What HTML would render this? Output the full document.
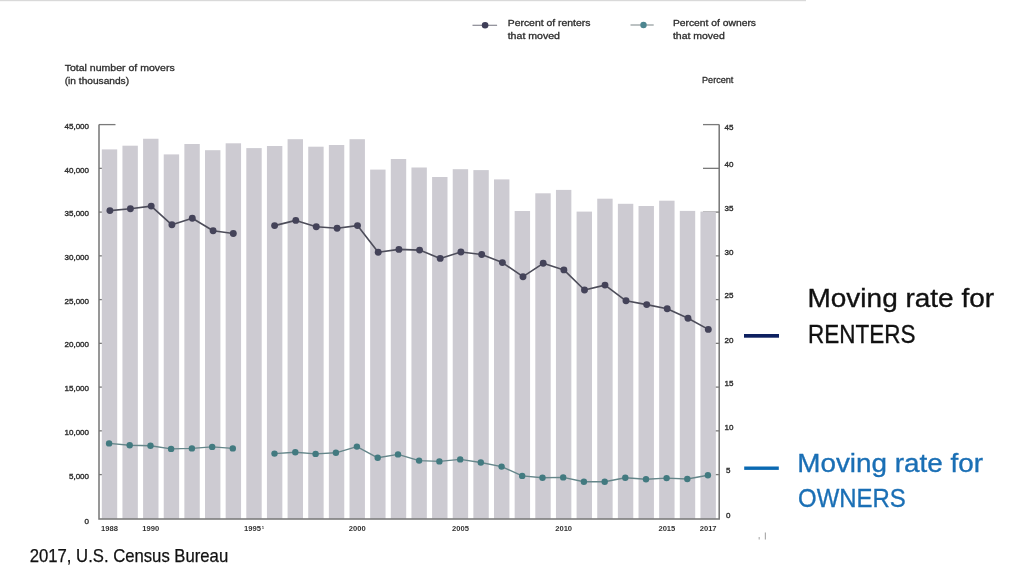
<!DOCTYPE html>
<html><head><meta charset="utf-8">
<style>
html,body{margin:0;padding:0;background:#fff;}
body{width:1024px;height:576px;overflow:hidden;position:relative;}
svg{position:absolute;left:0;top:0;filter:blur(0.35px);}
text{font-family:"Liberation Sans",sans-serif;}
</style></head><body>
<svg width="1024" height="576" viewBox="0 0 1024 576">
<rect x="0" y="0" width="806" height="1.2" fill="#d9d9d9"/>
<g fill="#2d2d2d" stroke="#2d2d2d" stroke-width="0.3" font-size="9.3">
<text x="64.7" y="70.8" textLength="110" lengthAdjust="spacingAndGlyphs">Total number of movers</text>
<text x="64.7" y="83.7" textLength="64.4" lengthAdjust="spacingAndGlyphs">(in thousands)</text>
<text x="507.7" y="25.7" textLength="82.8" lengthAdjust="spacingAndGlyphs">Percent of renters</text>
<text x="507.7" y="39.4" textLength="52.3" lengthAdjust="spacingAndGlyphs">that moved</text>
<text x="672.9" y="25.7" textLength="83.1" lengthAdjust="spacingAndGlyphs">Percent of owners</text>
<text x="672.9" y="39.4" textLength="51.9" lengthAdjust="spacingAndGlyphs">that moved</text>
<text x="702" y="82.6" textLength="31.4" lengthAdjust="spacingAndGlyphs">Percent</text>
</g>
<g stroke="#555" stroke-width="1.8">
<line x1="472.5" y1="25.3" x2="497.1" y2="25.3" stroke="#8a8a94" stroke-width="1.2"/>
<line x1="630.5" y1="25" x2="653.7" y2="25" stroke="#8f9a9c" stroke-width="1.2"/>
</g>
<circle cx="485.1" cy="25.3" r="3.3" fill="#3f3e58"/>
<circle cx="643.5" cy="25" r="3.2" fill="#4d8690"/>
<g stroke="#7a7a7a" stroke-width="1.3" fill="none">
<line x1="99" y1="124.6" x2="115.5" y2="124.6" />
<line x1="703" y1="124.6" x2="719.2" y2="124.6" />
<line x1="99" y1="168.35" x2="115.5" y2="168.35" />
<line x1="703" y1="168.35" x2="719.2" y2="168.35" />
<line x1="99" y1="212.1" x2="115.5" y2="212.1" />
<line x1="703" y1="212.1" x2="719.2" y2="212.1" />
<line x1="99" y1="255.85" x2="115.5" y2="255.85" />
<line x1="703" y1="255.85" x2="719.2" y2="255.85" />
<line x1="99" y1="299.6" x2="115.5" y2="299.6" />
<line x1="703" y1="299.6" x2="719.2" y2="299.6" />
<line x1="99" y1="343.35" x2="115.5" y2="343.35" />
<line x1="703" y1="343.35" x2="719.2" y2="343.35" />
<line x1="99" y1="387.1" x2="115.5" y2="387.1" />
<line x1="703" y1="387.1" x2="719.2" y2="387.1" />
<line x1="99" y1="430.85" x2="115.5" y2="430.85" />
<line x1="703" y1="430.85" x2="719.2" y2="430.85" />
<line x1="99" y1="474.6" x2="115.5" y2="474.6" />
<line x1="703" y1="474.6" x2="719.2" y2="474.6" />
</g>
<g fill="#cdcbd2">
<rect x="101.8" y="149.4" width="15.4" height="369.35" />
<rect x="122.44" y="145.7" width="15.4" height="373.05" />
<rect x="143.09" y="138.75" width="15.4" height="380" />
<rect x="163.73" y="154.4" width="15.4" height="364.35" />
<rect x="184.37" y="144" width="15.4" height="374.75" />
<rect x="205.01" y="150.2" width="15.4" height="368.55" />
<rect x="225.66" y="143.3" width="15.4" height="375.45" />
<rect x="246.3" y="148.1" width="15.4" height="370.65" />
<rect x="266.94" y="146" width="15.4" height="372.75" />
<rect x="287.59" y="139.2" width="15.4" height="379.55" />
<rect x="308.23" y="146.7" width="15.4" height="372.05" />
<rect x="328.87" y="145" width="15.4" height="373.75" />
<rect x="349.52" y="139.2" width="15.4" height="379.55" />
<rect x="370.16" y="169.6" width="15.4" height="349.15" />
<rect x="390.8" y="159" width="15.4" height="359.75" />
<rect x="411.44" y="167.5" width="15.4" height="351.25" />
<rect x="432.09" y="177" width="15.4" height="341.75" />
<rect x="452.73" y="169.2" width="15.4" height="349.55" />
<rect x="473.37" y="170.1" width="15.4" height="348.65" />
<rect x="494.02" y="179.4" width="15.4" height="339.35" />
<rect x="514.66" y="211" width="15.4" height="307.75" />
<rect x="535.3" y="193.3" width="15.4" height="325.45" />
<rect x="555.95" y="189.9" width="15.4" height="328.85" />
<rect x="576.59" y="211.6" width="15.4" height="307.15" />
<rect x="597.23" y="198.7" width="15.4" height="320.05" />
<rect x="617.88" y="203.8" width="15.4" height="314.95" />
<rect x="638.52" y="206" width="15.4" height="312.75" />
<rect x="659.16" y="200.7" width="15.4" height="318.05" />
<rect x="679.8" y="210.9" width="15.4" height="307.85" />
<rect x="700.45" y="211.6" width="15.4" height="307.15" />
</g>
<g stroke="#767676" stroke-width="1.5" fill="none">
<polyline points="99,124.6 99,518.9 719.2,518.9 719.2,124.6" />
</g>
<g fill="none" stroke="#4d4d5a" stroke-width="1.6" stroke-linejoin="round">
<polyline points="109.9,210.6 130.4,208.7 151.2,206.1 171.9,224.8 192.3,218.3 213.1,230.8 233.3,233.5"/>
<polyline points="274.6,225.6 295.8,220.4 316.25,226.7 337.1,228.3 357.5,225.6 378.2,252.3 398.9,249.4 419.6,250.1 440.2,258.4 460.9,252 481.7,254.5 502.4,262.6 523,276.7 543.2,263.3 563.9,269.9 584.5,290 605,285.1 626,300.8 646.7,304.6 667.2,308.8 688,318.2 708.3,329.4"/>
</g>
<g fill="#444359">
<circle cx="109.9" cy="210.6" r="3.45" />
<circle cx="130.4" cy="208.7" r="3.45" />
<circle cx="151.2" cy="206.1" r="3.45" />
<circle cx="171.9" cy="224.8" r="3.45" />
<circle cx="192.3" cy="218.3" r="3.45" />
<circle cx="213.1" cy="230.8" r="3.45" />
<circle cx="233.3" cy="233.5" r="3.45" />
<circle cx="274.6" cy="225.6" r="3.45" />
<circle cx="295.8" cy="220.4" r="3.45" />
<circle cx="316.25" cy="226.7" r="3.45" />
<circle cx="337.1" cy="228.3" r="3.45" />
<circle cx="357.5" cy="225.6" r="3.45" />
<circle cx="378.2" cy="252.3" r="3.45" />
<circle cx="398.9" cy="249.4" r="3.45" />
<circle cx="419.6" cy="250.1" r="3.45" />
<circle cx="440.2" cy="258.4" r="3.45" />
<circle cx="460.9" cy="252" r="3.45" />
<circle cx="481.7" cy="254.5" r="3.45" />
<circle cx="502.4" cy="262.6" r="3.45" />
<circle cx="523" cy="276.7" r="3.45" />
<circle cx="543.2" cy="263.3" r="3.45" />
<circle cx="563.9" cy="269.9" r="3.45" />
<circle cx="584.5" cy="290" r="3.45" />
<circle cx="605" cy="285.1" r="3.45" />
<circle cx="626" cy="300.8" r="3.45" />
<circle cx="646.7" cy="304.6" r="3.45" />
<circle cx="667.2" cy="308.8" r="3.45" />
<circle cx="688" cy="318.2" r="3.45" />
<circle cx="708.3" cy="329.4" r="3.45" />
</g>
<g fill="none" stroke="#65868a" stroke-width="1.4" stroke-linejoin="round">
<polyline points="109.1,443.4 129.7,445.3 150.5,445.8 171.1,448.9 191.9,448.4 212.2,446.9 232.8,448.4"/>
<polyline points="274.5,453.6 295.3,452.3 315.6,453.9 335.9,452.8 356.9,446.6 377.7,457.8 398,454.4 419.1,460.6 439.4,461.4 460.2,459.4 480.8,462.5 501.6,466.6 522.2,475.9 542.5,477.7 563.2,477.4 583.9,481.7 604.7,481.7 625.3,477.8 646,479.2 666.6,478.1 687.3,479 707.9,475.2"/>
</g>
<g fill="#427a80">
<circle cx="109.1" cy="443.4" r="3.2" />
<circle cx="129.7" cy="445.3" r="3.2" />
<circle cx="150.5" cy="445.8" r="3.2" />
<circle cx="171.1" cy="448.9" r="3.2" />
<circle cx="191.9" cy="448.4" r="3.2" />
<circle cx="212.2" cy="446.9" r="3.2" />
<circle cx="232.8" cy="448.4" r="3.2" />
<circle cx="274.5" cy="453.6" r="3.2" />
<circle cx="295.3" cy="452.3" r="3.2" />
<circle cx="315.6" cy="453.9" r="3.2" />
<circle cx="335.9" cy="452.8" r="3.2" />
<circle cx="356.9" cy="446.6" r="3.2" />
<circle cx="377.7" cy="457.8" r="3.2" />
<circle cx="398" cy="454.4" r="3.2" />
<circle cx="419.1" cy="460.6" r="3.2" />
<circle cx="439.4" cy="461.4" r="3.2" />
<circle cx="460.2" cy="459.4" r="3.2" />
<circle cx="480.8" cy="462.5" r="3.2" />
<circle cx="501.6" cy="466.6" r="3.2" />
<circle cx="522.2" cy="475.9" r="3.2" />
<circle cx="542.5" cy="477.7" r="3.2" />
<circle cx="563.2" cy="477.4" r="3.2" />
<circle cx="583.9" cy="481.7" r="3.2" />
<circle cx="604.7" cy="481.7" r="3.2" />
<circle cx="625.3" cy="477.8" r="3.2" />
<circle cx="646" cy="479.2" r="3.2" />
<circle cx="666.6" cy="478.1" r="3.2" />
<circle cx="687.3" cy="479" r="3.2" />
<circle cx="707.9" cy="475.2" r="3.2" />
</g>
<g fill="#333" stroke="#333" stroke-width="0.4" font-size="8.0">
<text x="89" y="129.05" text-anchor="end">45,000</text>
<text x="89" y="173.05" text-anchor="end">40,000</text>
<text x="89" y="216.35" text-anchor="end">35,000</text>
<text x="89" y="260.05" text-anchor="end">30,000</text>
<text x="89" y="303.75" text-anchor="end">25,000</text>
<text x="89" y="347.45" text-anchor="end">20,000</text>
<text x="89" y="391.15" text-anchor="end">15,000</text>
<text x="89" y="434.85" text-anchor="end">10,000</text>
<text x="89" y="478.55" text-anchor="end">5,000</text>
<text x="89" y="523.95" text-anchor="end">0</text>
</g>
<g fill="#333" stroke="#333" stroke-width="0.4" font-size="8.0">
<text x="724.5" y="129.75">45</text>
<text x="724.5" y="167.05">40</text>
<text x="724.5" y="211.45">35</text>
<text x="724.5" y="254.95">30</text>
<text x="724.5" y="298.35">25</text>
<text x="724.5" y="342.55">20</text>
<text x="724.5" y="386.05">15</text>
<text x="724.5" y="429.75">10</text>
<text x="726.0" y="473.25">5</text>
<text x="726.0" y="517.55">0</text>
</g>
<g fill="#333" font-size="7.6" font-weight="bold">
<text x="109.5" y="530.91" text-anchor="middle">1988</text>
<text x="150.79" y="530.91" text-anchor="middle">1990</text>
<text x="357.22" y="530.91" text-anchor="middle">2000</text>
<text x="460.43" y="530.91" text-anchor="middle">2005</text>
<text x="563.65" y="530.91" text-anchor="middle">2010</text>
<text x="666.86" y="530.91" text-anchor="middle">2015</text>
<text x="708.15" y="530.91" text-anchor="middle">2017</text>
<text x="244.1" y="530.91" textLength="17" lengthAdjust="spacingAndGlyphs">1995</text>
<text x="261.8" y="528.6" font-size="4.2">1</text>
</g>
<rect x="744" y="334" width="35" height="3.7" fill="#0d2060"/>
<rect x="758.5" y="537" width="1.5" height="2.5" fill="#9a9a9a" opacity="0.6"/>
<rect x="764.8" y="532.5" width="1.2" height="7" fill="#8a8a8a" opacity="0.7"/>
<rect x="744.2" y="466.5" width="34.6" height="3.4" fill="#0a69b2"/>
<g font-size="26" stroke-width="0.35">
<text x="807.5" y="307.2" fill="#111" stroke="#111" textLength="186.6" lengthAdjust="spacingAndGlyphs">Moving rate for</text>
<text x="808" y="343.3" fill="#111" stroke="#111" textLength="107.4" lengthAdjust="spacingAndGlyphs">RENTERS</text>
<text x="797.3" y="471.7" fill="#1a6fb5" stroke="#1a6fb5" textLength="185.6" lengthAdjust="spacingAndGlyphs">Moving rate for</text>
<text x="798.1" y="507.1" fill="#1a6fb5" stroke="#1a6fb5" textLength="107.6" lengthAdjust="spacingAndGlyphs">OWNERS</text>
</g>
<text x="29.7" y="561.9" font-size="17.7" fill="#111" stroke="#111" stroke-width="0.25" textLength="198.5" lengthAdjust="spacingAndGlyphs">2017, U.S. Census Bureau</text>
</svg>
</body></html>
